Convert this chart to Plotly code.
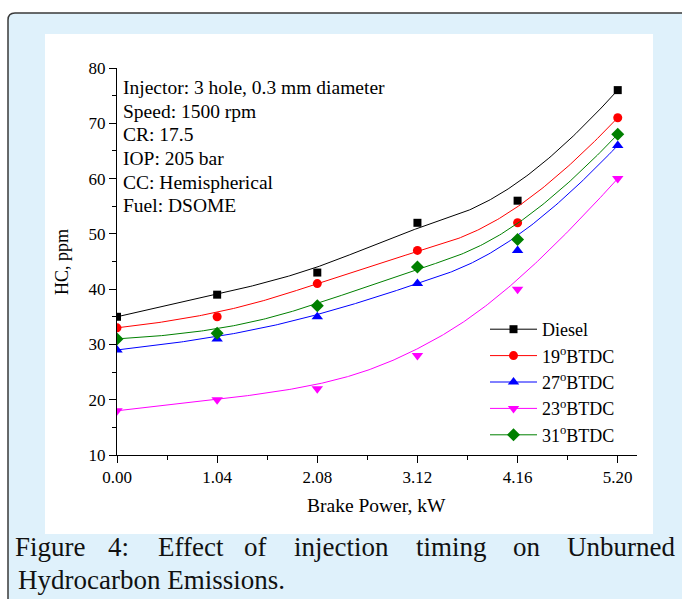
import numpy as np
import plotly.graph_objects as go

# ---- data -------------------------------------------------------------
power_kw = [0.00, 1.04, 2.08, 3.12, 4.16, 5.20]
power_labels = ["0.00", "1.04", "2.08", "3.12", "4.16", "5.20"]
hc_ticks = [10, 20, 30, 40, 50, 60, 70, 80]

hc_diesel = [35, 39, 43, 52, 56, 76]
hc_19btdc = [33, 35, 41, 47, 52, 71]
hc_27btdc = [29, 31, 35, 41, 47, 66]
hc_23btdc = [18, 20, 22, 28, 40, 60]
hc_31btdc = [31, 32, 37, 44, 49, 68]

series_names = ["Diesel", "19<sup>o</sup>BTDC", "27<sup>o</sup>BTDC",
                "23<sup>o</sup>BTDC", "31<sup>o</sup>BTDC"]
series_values = [hc_diesel, hc_19btdc, hc_27btdc, hc_23btdc, hc_31btdc]
series_colors = ["#000000", "#ff0000", "#0000ff", "#ff00ff", "#008000"]
series_symbols = ["square", "circle", "triangle-up", "triangle-down", "diamond"]
series_sizes = [8, 9, 10, 10, 10]

info_lines = ["Injector: 3 hole, 0.3 mm diameter", "Speed: 1500 rpm", "CR: 17.5",
              "IOP: 205 bar", "CC: Hemispherical", "Fuel: DSOME"]

W, H = 682, 599
SERIF = "Liberation Serif, Times New Roman, serif"
CAPTION_FONT = "Liberation Serif, serif"


def fx(px):
    return px / W


def fy(py):
    return 1 - py / H


def bspline(xs, ys, samples=300, k=3):
    """Clamped cubic B-spline using the data points as control points."""
    P = np.column_stack([xs, ys]).astype(float)
    n = len(P)
    knots = np.concatenate([np.zeros(k + 1), np.arange(1, n - k),
                            np.full(k + 1, n - k)]).astype(float)
    t = np.linspace(0, n - k, samples)
    t[-1] -= 1e-9

    def basis(i, p):
        if p == 0:
            return np.where((knots[i] <= t) & (t < knots[i + 1]), 1.0, 0.0)
        d1 = knots[i + p] - knots[i]
        d2 = knots[i + p + 1] - knots[i + 1]
        a = 0.0 if d1 == 0 else (t - knots[i]) / d1 * basis(i, p - 1)
        b = 0.0 if d2 == 0 else (knots[i + p + 1] - t) / d2 * basis(i + 1, p - 1)
        return a + b

    B = np.array([basis(i, k) for i in range(n)])
    pts = B.T @ P
    return pts[:, 0], pts[:, 1]


fig = go.Figure()

for name, vals, col, sym, sz in zip(series_names, series_values, series_colors,
                                    series_symbols, series_sizes):
    cx, cy = bspline(power_kw, vals)
    fig.add_trace(go.Scatter(x=cx, y=cy, mode="lines", showlegend=False,
                             line=dict(color=col, width=1), hoverinfo="skip"))
    fig.add_trace(go.Scatter(x=power_kw, y=vals, mode="markers", showlegend=False,
                             marker=dict(symbol=sym, size=sz, color=col,
                                         line=dict(width=0))))

# legend entries: line with marker
for i, (name, col, sym, sz) in enumerate(zip(series_names, series_colors,
                                              series_symbols, series_sizes)):
    fig.add_trace(go.Scatter(x=[None], y=[None], mode="lines+markers", name=name,
                             legendgroup=f"g{i}",
                             line=dict(color=col, width=1),
                             marker=dict(symbol=sym, size=sz, color=col,
                                         line=dict(width=0))))

shapes = [
    # light blue figure box with rounded top-left corner
    dict(type="path", xref="paper", yref="paper", layer="below",
         path=(f"M {fx(8)},{fy(650)} L {fx(8)},{fy(20)} "
               f"Q {fx(8)},{fy(13)} {fx(15)},{fy(13)} "
               f"L {fx(720)},{fy(13)} L {fx(720)},{fy(650)} Z"),
         fillcolor="#dff1fb", line=dict(color="#3a3a3a", width=1.5)),
    # white chart panel
    dict(type="rect", xref="paper", yref="paper", layer="below",
         x0=fx(45), x1=fx(653), y0=fy(534), y1=fy(34),
         fillcolor="white", line=dict(width=0)),
]

annotations = [
    # axis titles
    dict(text="Brake Power, kW", xref="paper", yref="paper", x=fx(377), y=fy(505),
         xanchor="center", yanchor="middle", showarrow=False,
         font=dict(family=SERIF, size=19.5, color="black")),
    dict(text="HC, ppm", xref="paper", yref="paper", x=fx(62), y=fy(262),
         xanchor="center", yanchor="middle", showarrow=False, textangle=-90,
         font=dict(family=SERIF, size=18, color="black")),
]

# test conditions, one line each
info_y = [87.5, 111, 134.5, 158, 182, 205.5]
for line, ly in zip(info_lines, info_y):
    annotations.append(dict(text=line, xref="paper", yref="paper",
                            x=fx(121), y=fy(ly), xanchor="left", yanchor="middle",
                            showarrow=False,
                            font=dict(family=SERIF, size=19.5, color="black")))

# caption, first line justified word by word
caption_words = ["Figure", "4:", "Effect", "of", "injection", "timing", "on", "Unburned"]
caption_centers = [50, 118.5, 191.5, 255.5, 341, 451.5, 526.5, 621]
for word, cxp in zip(caption_words, caption_centers):
    annotations.append(dict(text=word, xref="paper", yref="paper", x=fx(cxp), y=fy(547),
                            xanchor="center", yanchor="middle", showarrow=False,
                            font=dict(family=CAPTION_FONT, size=27, color="#111111")))
annotations.append(dict(text="Hydrocarbon Emissions.", xref="paper", yref="paper",
                        x=fx(16), y=fy(580), xanchor="left", yanchor="middle",
                        showarrow=False,
                        font=dict(family=CAPTION_FONT, size=27, color="#111111")))

axis_common = dict(showline=True, linecolor="black", linewidth=1, ticks="outside",
                   ticklen=7, tickwidth=1, tickcolor="black", showgrid=False,
                   zeroline=False, mirror=False, automargin=False,
                   tickfont=dict(family=SERIF, size=17, color="black"))

fig.update_layout(
    width=W, height=H, autosize=False,
    margin=dict(l=0, r=0, t=0, b=0, pad=0),
    paper_bgcolor="white", plot_bgcolor="white",
    xaxis=dict(domain=[fx(117), fx(637)], range=[0, 5.4],
               tickvals=power_kw, ticktext=power_labels,
               minor=dict(tick0=0.52, dtick=1.04, ticks="outside", ticklen=4,
                          tickcolor="black", showgrid=False),
               **axis_common),
    yaxis=dict(domain=[fy(455), fy(68)], range=[10, 80],
               tickvals=hc_ticks,
               minor=dict(tick0=5, dtick=10, ticks="outside", ticklen=4,
                          tickcolor="black", showgrid=False),
               **axis_common),
    legend=dict(x=fx(485), y=fy(311), xanchor="left", yanchor="top",
                bgcolor="rgba(0,0,0,0)", borderwidth=0, tracegroupgap=0,
                itemwidth=47, traceorder="normal",
                font=dict(family=SERIF, size=18, color="black")),
    shapes=shapes,
    annotations=annotations,
)

fig.write_html("out.html")
